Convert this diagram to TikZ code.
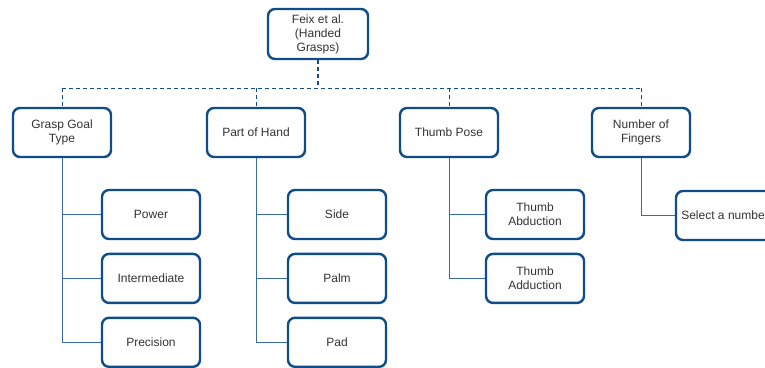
\documentclass[tikz,border=0pt]{standalone}
\usepackage{fontspec}
\setmainfont{Liberation Sans}
\usetikzlibrary{positioning}
\definecolor{boxblue}{HTML}{0F4C8A}
\definecolor{lineblue}{HTML}{3A6AA6}
\definecolor{txt}{HTML}{333333}
\tikzset{
  box/.style={draw=boxblue, line width=2.4pt, rounded corners=7pt, fill=white,
    minimum width=98pt, minimum height=49pt, align=center, text=txt,
    font=\fontsize{12}{14}\selectfont},
  conn/.style={draw=lineblue, line width=1pt},
  bus/.style={draw=boxblue, line width=1pt, dash pattern=on 4pt off 3pt}
}
\begin{document}
\begin{tikzpicture}[x=1pt, y=-1pt]
    \useasboundingbox (0,0) rectangle (765,367);
    \clip (0,0) rectangle (765,367);

    \node[box, minimum width=100pt, minimum height=50pt] (root) at (318,34) {Feix et al.\\(Handed\\Grasps)};
    \coordinate (hub) at (318,88);

    \node[box] (goal)   at (62,132.5)  {Grasp Goal\\Type};
    \node[box] (part)   at (256,132.5) {Part of Hand};
    \node[box] (thumb)  at (449,132.5) {Thumb Pose};
    \node[box] (number) at (641,132.5) {Number of\\Fingers};

    \node[box] (power)  at (151,214.5) {Power};
    \node[box] (inter)  [below=12.5pt of power] {Intermediate};
    \node[box] (prec)   [below=12.5pt of inter] {Precision};

    \node[box] (side)   at (337,214.5) {Side};
    \node[box] (palm)   [below=12.5pt of side] {Palm};
    \node[box] (pad)    [below=12.5pt of palm] {Pad};

    \node[box] (abduct) at (535,214.5) {Thumb\\Abduction};
    \node[box] (adduct) [below=12.5pt of abduct] {Thumb\\Adduction};

    \node[box] (select) at (725,215.5) {Select a number};

    % dashed bus
    \draw[bus, line width=2pt] (root.south) -- (hub);
    \draw[bus] (goal.north |- hub) -- (number.north |- hub);
    \draw[bus] (hub -| goal.north) -- (goal.north);
    \draw[bus] (hub -| part.north) -- (part.north);
    \draw[bus] (hub -| thumb.north) -- (thumb.north);
    \draw[bus] (hub -| number.north) -- (number.north);

    % trees
    \draw[conn] (goal.south) |- (prec.west);
    \draw[conn] (goal.south |- power.west) -- (power.west);
    \draw[conn] (goal.south |- inter.west) -- (inter.west);
    \draw[conn] (part.south) |- (pad.west);
    \draw[conn] (part.south |- side.west) -- (side.west);
    \draw[conn] (part.south |- palm.west) -- (palm.west);
    \draw[conn] (thumb.south) |- (adduct.west);
    \draw[conn] (thumb.south |- abduct.west) -- (abduct.west);
    \draw[conn] (number.south) |- (select.west);
  \end{tikzpicture}
\end{document}
